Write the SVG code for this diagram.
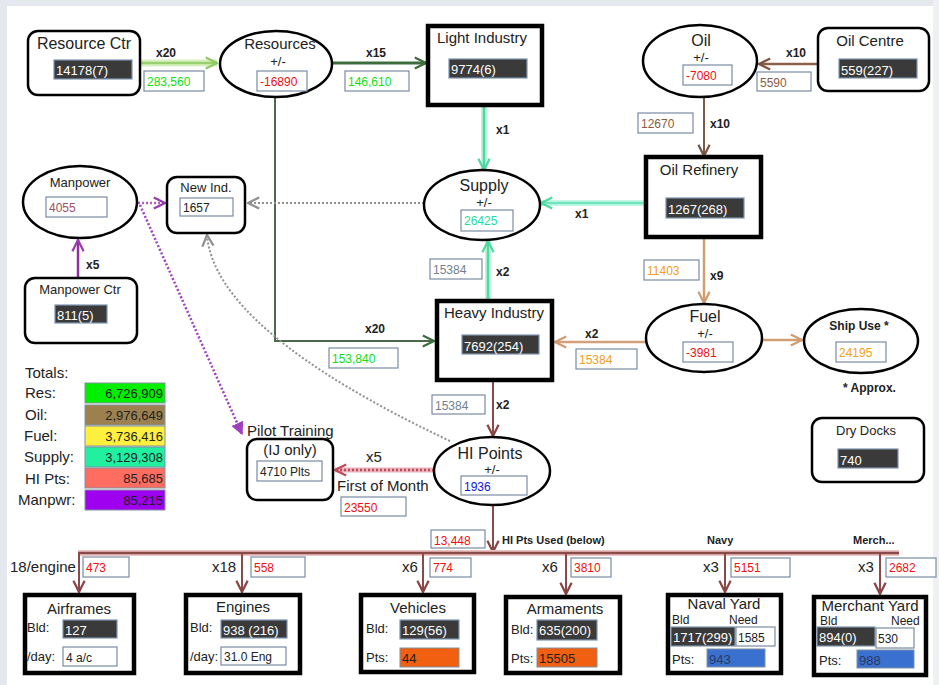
<svg xmlns="http://www.w3.org/2000/svg" width="939" height="685" viewBox="0 0 939 685">
<defs>
<style>
text{font-family:"Liberation Sans",Arial,sans-serif;fill:#222}
.t16{font-size:16px}
.t15{font-size:15px}
.t14{font-size:14px}
.t13{font-size:13px}
.pm{font-size:13px;text-anchor:middle}
.b{font-weight:bold;font-size:12px}
.mid{text-anchor:middle}
.end{text-anchor:end}
.rbox{fill:#fff;stroke:#000;stroke-width:2.5}
.hbox{fill:#fff;stroke:#000;stroke-width:4.5}
.ell{fill:#fff;stroke:#000;stroke-width:2.5}
.dark{fill:#3a3a3a;stroke:#7d94b0;stroke-width:1.2}
.dt{fill:#fff;font-size:13px}
.val{fill:#fff;stroke:#7a8aa2;stroke-width:1.2}
.vt{font-size:12px}
.red{fill:#f01010}
.grn{fill:#10e010}
.gry{fill:#708090}
.brn{fill:#8a5a40}
.org{fill:#f0a020}
.tea{fill:#20e0a0}
.blu{fill:#1010e0}
.ln{fill:none}
</style>
<marker id="aLg" viewBox="0 0 10 10" refX="9" refY="5" markerWidth="14" markerHeight="14" markerUnits="userSpaceOnUse" orient="auto"><path d="M1,1 L9,5 L1,9" fill="none" stroke="#90c868" stroke-width="1.6"/></marker>
<marker id="aDg" viewBox="0 0 10 10" refX="9" refY="5" markerWidth="14" markerHeight="14" markerUnits="userSpaceOnUse" orient="auto"><path d="M1,1 L9,5 L1,9" fill="none" stroke="#3c6e3c" stroke-width="1.6"/></marker>
<marker id="aTe" viewBox="0 0 10 10" refX="9" refY="5" markerWidth="14" markerHeight="14" markerUnits="userSpaceOnUse" orient="auto"><path d="M1,1 L9,5 L1,9" fill="none" stroke="#50d8a0" stroke-width="1.6"/></marker>
<marker id="aBr" viewBox="0 0 10 10" refX="9" refY="5" markerWidth="14" markerHeight="14" markerUnits="userSpaceOnUse" orient="auto"><path d="M1,1 L9,5 L1,9" fill="none" stroke="#7a5444" stroke-width="1.6"/></marker>
<marker id="aTa" viewBox="0 0 10 10" refX="9" refY="5" markerWidth="14" markerHeight="14" markerUnits="userSpaceOnUse" orient="auto"><path d="M1,1 L9,5 L1,9" fill="none" stroke="#d09c70" stroke-width="1.6"/></marker>
<marker id="aMa" viewBox="0 0 10 10" refX="9" refY="5" markerWidth="14" markerHeight="14" markerUnits="userSpaceOnUse" orient="auto"><path d="M1,1 L9,5 L1,9" fill="none" stroke="#8a4444" stroke-width="1.6"/></marker>
<marker id="aPu" viewBox="0 0 10 10" refX="9" refY="5" markerWidth="14" markerHeight="14" markerUnits="userSpaceOnUse" orient="auto"><path d="M1,1 L9,5 L1,9" fill="none" stroke="#9a3ab0" stroke-width="1.6"/></marker>
<marker id="aPf" viewBox="0 0 10 10" refX="9" refY="5" markerWidth="13" markerHeight="13" markerUnits="userSpaceOnUse" orient="auto"><path d="M0,0 L10,5 L0,10 Z" fill="#a040c0"/></marker>
<marker id="aGy" viewBox="0 0 10 10" refX="9" refY="5" markerWidth="14" markerHeight="14" markerUnits="userSpaceOnUse" orient="auto"><path d="M1,1 L9,5 L1,9" fill="none" stroke="#909090" stroke-width="1.6"/></marker>
<marker id="aPk" viewBox="0 0 10 10" refX="9" refY="5" markerWidth="14" markerHeight="14" markerUnits="userSpaceOnUse" orient="auto"><path d="M1,1 L9,5 L1,9" fill="none" stroke="#c04858" stroke-width="1.6"/></marker>
</defs>
<rect x="0" y="0" width="939" height="685" fill="#fff"/>
<rect x="0" y="0" width="939" height="6" fill="#e4e7ee"/>
<rect x="0" y="0" width="7" height="685" fill="#e4e7ee"/>
<rect x="933" y="0" width="6" height="685" fill="#eef0f4"/>

<g id="connectors">
<line x1="140" y1="63" x2="217" y2="63" stroke="#d8f0c0" stroke-width="7"/>
<line x1="140" y1="63" x2="217" y2="63" stroke="#98d070" stroke-width="2.5" marker-end="url(#aLg)"/>
<line x1="332" y1="63" x2="426" y2="63" stroke="#3c6e3c" stroke-width="3" marker-end="url(#aDg)"/>
<polyline points="275,98 275,341 434,341" class="ln" stroke="#4a6a4a" stroke-width="2" marker-end="url(#aDg)"/>
<line x1="484" y1="106" x2="484" y2="170" stroke="#c0f4dc" stroke-width="6"/>
<line x1="484" y1="106" x2="484" y2="170" stroke="#50d8a0" stroke-width="2.5" marker-end="url(#aTe)"/>
<line x1="645" y1="203" x2="541" y2="203" stroke="#c8f6e4" stroke-width="6"/>
<line x1="645" y1="203" x2="541" y2="203" stroke="#70e4c0" stroke-width="2.5" marker-end="url(#aTe)"/>
<line x1="488" y1="300" x2="488" y2="241" stroke="#c0f4dc" stroke-width="6"/>
<line x1="488" y1="300" x2="488" y2="241" stroke="#50d8a0" stroke-width="2.5" marker-end="url(#aTe)"/>
<line x1="817" y1="64" x2="759" y2="64" stroke="#8a6048" stroke-width="2.5" marker-end="url(#aBr)"/>
<line x1="704" y1="97" x2="704" y2="156" stroke="#7a5a48" stroke-width="2" marker-end="url(#aBr)"/>
<line x1="704" y1="238" x2="704" y2="303" stroke="#d0a070" stroke-width="2.5" marker-end="url(#aTa)"/>
<line x1="646" y1="342" x2="555" y2="342" stroke="#d8a078" stroke-width="2.5" marker-end="url(#aTa)"/>
<line x1="762" y1="340" x2="802" y2="340" stroke="#d0a070" stroke-width="2.5" marker-end="url(#aTa)"/>
<line x1="493" y1="380" x2="493" y2="436" stroke="#8a4a4a" stroke-width="2" marker-end="url(#aMa)"/>
<line x1="493" y1="506" x2="493" y2="552" stroke="#8a4a4a" stroke-width="2" marker-end="url(#aMa)"/>
<line x1="78" y1="553" x2="899" y2="553" stroke="#ecc4c4" stroke-width="6"/>
<line x1="78" y1="553" x2="899" y2="553" stroke="#8a4a4a" stroke-width="2.5"/>
<line x1="79" y1="553" x2="79" y2="592" stroke="#8a4a4a" stroke-width="2" marker-end="url(#aMa)"/>
<line x1="242" y1="553" x2="242" y2="592" stroke="#8a4a4a" stroke-width="2" marker-end="url(#aMa)"/>
<line x1="423" y1="553" x2="423" y2="592" stroke="#8a4a4a" stroke-width="2" marker-end="url(#aMa)"/>
<line x1="566" y1="553" x2="566" y2="594" stroke="#8a4a4a" stroke-width="2" marker-end="url(#aMa)"/>
<line x1="725" y1="553" x2="725" y2="592" stroke="#8a4a4a" stroke-width="2" marker-end="url(#aMa)"/>
<line x1="880" y1="553" x2="880" y2="594" stroke="#8a4a4a" stroke-width="2" marker-end="url(#aMa)"/>
<line x1="78" y1="278" x2="78" y2="240" stroke="#9030a0" stroke-width="2.5" marker-end="url(#aPu)"/>
<line x1="138" y1="203" x2="165" y2="203" stroke="#b060c0" stroke-width="2.5" stroke-dasharray="2,2" marker-end="url(#aPu)"/>
<line x1="140" y1="205" x2="242" y2="434" stroke="#a040c0" stroke-width="2.5" stroke-dasharray="2,2" marker-end="url(#aPf)"/>
<line x1="424" y1="203" x2="248" y2="203" stroke="#909090" stroke-width="2" stroke-dasharray="2,2" marker-end="url(#aGy)"/>
<path d="M450,441 Q215,330 207,235" class="ln" stroke="#909090" stroke-width="2" stroke-dasharray="2,2" marker-end="url(#aGy)"/>
<line x1="434" y1="470" x2="335" y2="470" stroke="#e8b4bc" stroke-width="5"/>
<line x1="434" y1="470" x2="335" y2="470" stroke="#c04858" stroke-width="2.5" stroke-dasharray="2,2" marker-end="url(#aPk)"/>
<text x="156" y="57" class="b">x20</text>
<rect x="144" y="71" width="60" height="20" class="val"/><text x="147" y="86" class="vt grn">283,560</text>
<text x="366" y="57" class="b">x15</text>
<rect x="345" y="71" width="64" height="20" class="val"/><text x="348" y="86" class="vt grn">146,610</text>
<text x="496" y="134" class="b">x1</text>
<text x="786" y="57" class="b">x10</text>
<rect x="757" y="72" width="54" height="19" class="val"/><text x="760" y="87" class="vt brn">5590</text>
<text x="710" y="128" class="b">x10</text>
<rect x="638" y="113" width="55" height="20" class="val"/><text x="641" y="128" class="vt brn">12670</text>
<text x="575" y="218" class="b">x1</text>
<text x="496" y="276" class="b">x2</text>
<rect x="430" y="259" width="52" height="20" class="val"/><text x="433" y="274" class="vt gry">15384</text>
<text x="365" y="333" class="b">x20</text>
<rect x="329" y="348" width="69" height="20" class="val"/><text x="332" y="363" class="vt grn">153,840</text>
<text x="585" y="338" class="b">x2</text>
<rect x="576" y="349" width="61" height="20" class="val"/><text x="579" y="364" class="vt org">15384</text>
<text x="710" y="280" class="b">x9</text>
<rect x="644" y="260" width="55" height="20" class="val"/><text x="647" y="275" class="vt org">11403</text>
<text x="496" y="409" class="b">x2</text>
<rect x="432" y="395" width="53" height="19" class="val"/><text x="435" y="410" class="vt gry">15384</text>
<text x="86" y="269" class="b">x5</text>
<text x="366" y="462" class="t15">x5</text>
<text x="337" y="491" class="t15">First of Month</text>
<rect x="341" y="497" width="65" height="19" class="val"/><text x="344" y="512" class="vt red">23550</text>
<rect x="431" y="530" width="54" height="18" class="val"/><text x="434" y="545" class="vt red">13,448</text>
<text x="502" y="544" class="b" style="font-size:11px">HI Pts Used (below)</text>
<text x="707" y="544" class="b" style="font-size:11px">Navy</text>
<text x="853" y="544" class="b" style="font-size:11px">Merch...</text>
<text x="10" y="572" class="t15">18/engine</text>
<rect x="83" y="557" width="46" height="20" class="val"/><text x="86" y="572" class="vt red">473</text>
<text x="212" y="572" class="t15">x18</text>
<rect x="251" y="557" width="54" height="20" class="val"/><text x="254" y="572" class="vt red">558</text>
<text x="402" y="572" class="t15">x6</text>
<rect x="430" y="558" width="41" height="19" class="val"/><text x="433" y="572" class="vt red">774</text>
<text x="542" y="572" class="t15">x6</text>
<rect x="571" y="558" width="40" height="19" class="val"/><text x="574" y="572" class="vt red">3810</text>
<text x="703" y="572" class="t15">x3</text>
<rect x="731" y="558" width="59" height="19" class="val"/><text x="734" y="572" class="vt red">5151</text>
<text x="858" y="572" class="t15">x3</text>
<rect x="886" y="558" width="50" height="19" class="val"/><text x="889" y="572" class="vt red">2682</text>
</g>

<g id="resource-ctr">
<rect x="28" y="31" width="112" height="64" rx="10" class="rbox"/>
<text x="84" y="49" class="t16 mid">Resource Ctr</text>
<rect x="54" y="60" width="78" height="19" class="dark"/><text x="56" y="75" class="dt">14178(7)</text>
</g>
<g id="resources">
<ellipse cx="276" cy="64" rx="56" ry="33" class="ell"/>
<text x="280" y="49" class="t15 mid">Resources</text>
<text x="278" y="66" class="pm">+/-</text>
<rect x="257" y="71" width="50" height="20" class="val"/><text x="260" y="86" class="vt red">-16890</text>
</g>
<g id="light-industry">
<rect x="428" y="26" width="114" height="79" class="hbox"/>
<text x="482" y="43" class="t15 mid">Light Industry</text>
<rect x="449" y="59" width="78" height="19" class="dark"/><text x="451" y="74" class="dt">9774(6)</text>
</g>
<g id="oil">
<ellipse cx="700" cy="61" rx="57" ry="36" class="ell"/>
<text x="701" y="46" class="t16 mid">Oil</text>
<text x="701" y="62" class="pm">+/-</text>
<rect x="683" y="65" width="49" height="20" class="val"/><text x="686" y="80" class="vt red">-7080</text>
</g>
<g id="oil-centre">
<rect x="818" y="28" width="111" height="63" rx="10" class="rbox"/>
<text x="870" y="46" class="t15 mid">Oil Centre</text>
<rect x="839" y="59" width="78" height="19" class="dark"/><text x="841" y="75" class="dt">559(227)</text>
</g>
<g id="oil-refinery">
<rect x="646" y="157" width="115" height="80" class="hbox"/>
<text x="699" y="175" class="t15 mid">Oil Refinery</text>
<rect x="666" y="198" width="78" height="20" class="dark"/><text x="668" y="214" class="dt">1267(268)</text>
</g>
<g id="supply">
<ellipse cx="482" cy="205" rx="58" ry="35" class="ell"/>
<text x="484" y="191" class="t16 mid">Supply</text>
<text x="484" y="207" class="pm">+/-</text>
<rect x="461" y="210" width="52" height="21" class="val"/><text x="464" y="225" class="vt tea">26425</text>
</g>
<g id="heavy-industry">
<rect x="437" y="301" width="115" height="79" class="hbox"/>
<text x="494" y="318" class="t15 mid">Heavy Industry</text>
<rect x="462" y="335" width="77" height="19" class="dark"/><text x="464" y="351" class="dt">7692(254)</text>
</g>
<g id="fuel">
<ellipse cx="704" cy="338" rx="58" ry="34" class="ell"/>
<text x="705" y="322" class="t16 mid">Fuel</text>
<text x="705" y="338" class="pm">+/-</text>
<rect x="683" y="342" width="50" height="20" class="val"/><text x="686" y="357" class="vt red">-3981</text>
</g>
<g id="ship-use">
<ellipse cx="861" cy="341" rx="57" ry="32" class="ell"/>
<text x="859" y="330" class="b mid">Ship Use *</text>
<rect x="836" y="342" width="50" height="20" class="val"/><text x="839" y="357" class="vt org">24195</text>
<text x="843" y="392" class="b">* Approx.</text>
</g>
<g id="dry-docks">
<rect x="812" y="418" width="112" height="64" rx="10" class="rbox"/>
<text x="866" y="435" class="t13 mid">Dry Docks</text>
<rect x="838" y="449" width="60" height="19" class="dark"/><text x="840" y="465" class="dt">740</text>
</g>
<g id="manpower">
<ellipse cx="80" cy="202" rx="57" ry="36" class="ell"/>
<text x="80" y="187" class="t13 mid">Manpower</text>
<rect x="46" y="197" width="61" height="20" class="val"/><text x="49" y="212" class="vt" style="fill:#a05060">4055</text>
</g>
<g id="new-ind">
<rect x="167" y="177" width="78" height="56" rx="10" class="rbox"/>
<text x="206" y="192" class="t13 mid">New Ind.</text>
<rect x="180" y="198" width="53" height="18" class="val"/><text x="183" y="212" class="vt">1657</text>
</g>
<g id="manpower-ctr">
<rect x="25" y="278" width="112" height="65" rx="10" class="rbox"/>
<text x="80" y="294" class="t13 mid">Manpower Ctr</text>
<rect x="55" y="305" width="52" height="18" class="dark"/><text x="57" y="320" class="dt">811(5)</text>
</g>
<g id="totals">
<text x="25" y="378" class="t15">Totals:</text>
<text x="25" y="398" class="t15">Res:</text>
<text x="25" y="420" class="t15">Oil:</text>
<text x="24" y="441" class="t15">Fuel:</text>
<text x="24" y="462" class="t15">Supply:</text>
<text x="25" y="484" class="t15">HI Pts:</text>
<text x="18" y="505" class="t15">Manpwr:</text>
<rect x="85" y="383" width="80" height="20" fill="#00f000" stroke="#8090a0"/><text x="163" y="398" class="t13 end">6,726,909</text>
<rect x="85" y="405" width="80" height="20" fill="#9c8050" stroke="#8090a0"/><text x="163" y="420" class="t13 end">2,976,649</text>
<rect x="85" y="426" width="80" height="20" fill="#fff040" stroke="#8090a0"/><text x="163" y="441" class="t13 end">3,736,416</text>
<rect x="85" y="447" width="80" height="20" fill="#20f0a0" stroke="#8090a0"/><text x="163" y="462" class="t13 end">3,129,308</text>
<rect x="85" y="468" width="80" height="20" fill="#ff6c60" stroke="#8090a0"/><text x="163" y="483" class="t13 end">85,685</text>
<rect x="85" y="490" width="80" height="20" fill="#a000f0" stroke="#8090a0"/><text x="163" y="505" class="t13 end">85,215</text>
</g>
<g id="pilot-training">
<text x="247" y="436" class="t15">Pilot Training</text>
<rect x="247" y="439" width="86" height="61" rx="10" class="rbox"/>
<text x="290" y="455" class="t15 mid">(IJ only)</text>
<rect x="257" y="461" width="65" height="20" class="val"/><text x="260" y="476" class="vt">4710 Plts</text>
</g>
<g id="hi-points">
<ellipse cx="492" cy="471" rx="58" ry="34" class="ell"/>
<text x="490" y="459" class="t16 mid">HI Points</text>
<text x="492" y="474" class="pm">+/-</text>
<rect x="461" y="476" width="66" height="19" class="val"/><text x="464" y="491" class="vt blu">1936</text>
</g>
<g id="airframes">
<rect x="25" y="595" width="109" height="78" class="hbox"/>
<text x="79" y="614" class="t15 mid">Airframes</text>
<text x="27" y="632" class="t13">Bld:</text>
<rect x="63" y="620" width="54" height="18" class="dark"/><text x="65" y="635" class="dt">127</text>
<text x="27" y="661" class="t13">/day:</text>
<rect x="63" y="647" width="54" height="19" class="val"/><text x="66" y="662" class="vt">4 a/c</text>
</g>
<g id="engines">
<rect x="186" y="595" width="114" height="78" class="hbox"/>
<text x="243" y="612" class="t15 mid">Engines</text>
<text x="190" y="632" class="t13">Bld:</text>
<rect x="221" y="620" width="66" height="18" class="dark"/><text x="223" y="635" class="dt">938 (216)</text>
<text x="190" y="661" class="t13">/day:</text>
<rect x="221" y="647" width="65" height="18" class="val"/><text x="224" y="661" class="vt">31.0 Eng</text>
</g>
<g id="vehicles">
<rect x="361" y="595" width="113" height="77" class="hbox"/>
<text x="418" y="613" class="t15 mid">Vehicles</text>
<text x="366" y="633" class="t13">Bld:</text>
<rect x="400" y="620" width="59" height="19" class="dark"/><text x="402" y="635" class="dt">129(56)</text>
<text x="366" y="662" class="t13">Pts:</text>
<rect x="400" y="648" width="59" height="19" fill="#f06010" stroke="#8090a0"/><text x="402" y="663" class="t13">44</text>
</g>
<g id="armaments">
<rect x="506" y="597" width="114" height="76" class="hbox"/>
<text x="565" y="614" class="t15 mid">Armaments</text>
<text x="511" y="634" class="t13">Bld:</text>
<rect x="537" y="620" width="60" height="20" class="dark"/><text x="539" y="635" class="dt">635(200)</text>
<text x="511" y="663" class="t13">Pts:</text>
<rect x="537" y="648" width="60" height="19" fill="#f06010" stroke="#8090a0"/><text x="539" y="663" class="t13">15505</text>
</g>
<g id="naval-yard">
<rect x="668" y="595" width="113" height="78" class="hbox"/>
<text x="724" y="609" class="t15 mid">Naval Yard</text>
<text x="672" y="624" style="font-size:12px">Bld</text>
<text x="729" y="624" style="font-size:12px">Need</text>
<rect x="671" y="627" width="64" height="19" class="dark"/><text x="673" y="642" class="dt">1717(299)</text>
<rect x="736" y="627" width="39" height="19" class="val"/><text x="738" y="642" class="vt">1585</text>
<text x="672" y="664" class="t13">Pts:</text>
<rect x="707" y="649" width="58" height="18" fill="#3a70d0" stroke="#8090a0"/><text x="709" y="664" class="t13" style="fill:#2a3a60">943</text>
</g>
<g id="merchant-yard">
<rect x="814" y="597" width="112" height="78" class="hbox"/>
<text x="870" y="611" class="t15 mid">Merchant Yard</text>
<text x="820" y="625" style="font-size:12px">Bld</text>
<text x="891" y="625" style="font-size:12px">Need</text>
<rect x="817" y="627" width="58" height="19" class="dark"/><text x="819" y="642" class="dt">894(0)</text>
<rect x="876" y="628" width="38" height="20" class="val"/><text x="878" y="643" class="vt">530</text>
<text x="819" y="665" class="t13">Pts:</text>
<rect x="857" y="650" width="57" height="18" fill="#3a70d0" stroke="#8090a0"/><text x="859" y="665" class="t13" style="fill:#2a3a60">988</text>
</g>
</svg>
